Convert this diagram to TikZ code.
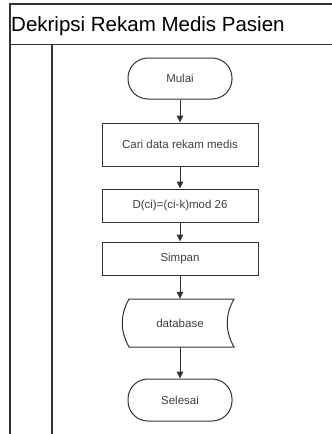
\documentclass[tikz,border=0pt]{standalone}
\usepackage{fontspec}
\setmainfont{Liberation Sans}
\usetikzlibrary{arrows.meta}
\definecolor{linec}{HTML}{333333}
\definecolor{txtc}{HTML}{404040}
\begin{document}
\begin{tikzpicture}[x=1pt,y=-1pt,
  frameline/.style={draw=linec,line width=1.3pt},
  term/.style={draw=linec,line width=1pt,rectangle,rounded corners=20pt,minimum width=104pt,minimum height=41pt,font=\fontsize{11.5}{13}\selectfont,text=txtc,fill=white},
  proc/.style={draw=linec,line width=1pt,rectangle,minimum width=156pt,font=\fontsize{11.5}{13}\selectfont,text=txtc,fill=white},
  dbtext/.style={minimum width=105pt,minimum height=48pt,font=\fontsize{11.5}{13}\selectfont,text=txtc},
  flow/.style={draw=linec,line width=1pt,-{Triangle[length=7pt,width=6.5pt]}}]
\useasboundingbox (0,0) rectangle (332,434);
\fill[white] (0,0) rectangle (332,434);
% frame
\draw[frameline] (332,4) -- (10,4) -- (10,434);
\draw[frameline] (10,44.5) -- (332,44.5);
\draw[frameline] (52,44.5) -- (52,434);
\node[anchor=base west,inner sep=0pt,font=\fontsize{20.5}{24}\selectfont] (title) at (11,31.7) {Dekripsi Rekam Medis Pasien};
% nodes
\node[term] (mulai) at (180,78.5) {Mulai};
\node[proc,minimum height=43pt] (cari) at (180,144.5) {Cari data rekam medis};
\node[proc,minimum height=33pt] (rumus) at (180,205.5) {D(ci)=(ci-k)mod 26};
\node[proc,minimum height=33pt] (simpan) at (180,258.5) {Simpan};
\draw[draw=linec,line width=1pt,fill=white] (129,299) -- (234,299) .. controls (225,315) and (225,331) .. (234,347) -- (129,347) .. controls (120,331) and (120,315) .. (129,299) -- cycle;
\node[dbtext] (db) at (180,323) {database};
\node[term,minimum height=42pt] (selesai) at (180,400) {Selesai};
% connectors
\draw[flow] (mulai) -- (cari);
\draw[flow] (cari) -- (rumus);
\draw[flow] (rumus) -- (simpan);
\draw[flow] (simpan) -- (db);
\draw[flow] (db) -- (selesai);
\end{tikzpicture}
\end{document}
